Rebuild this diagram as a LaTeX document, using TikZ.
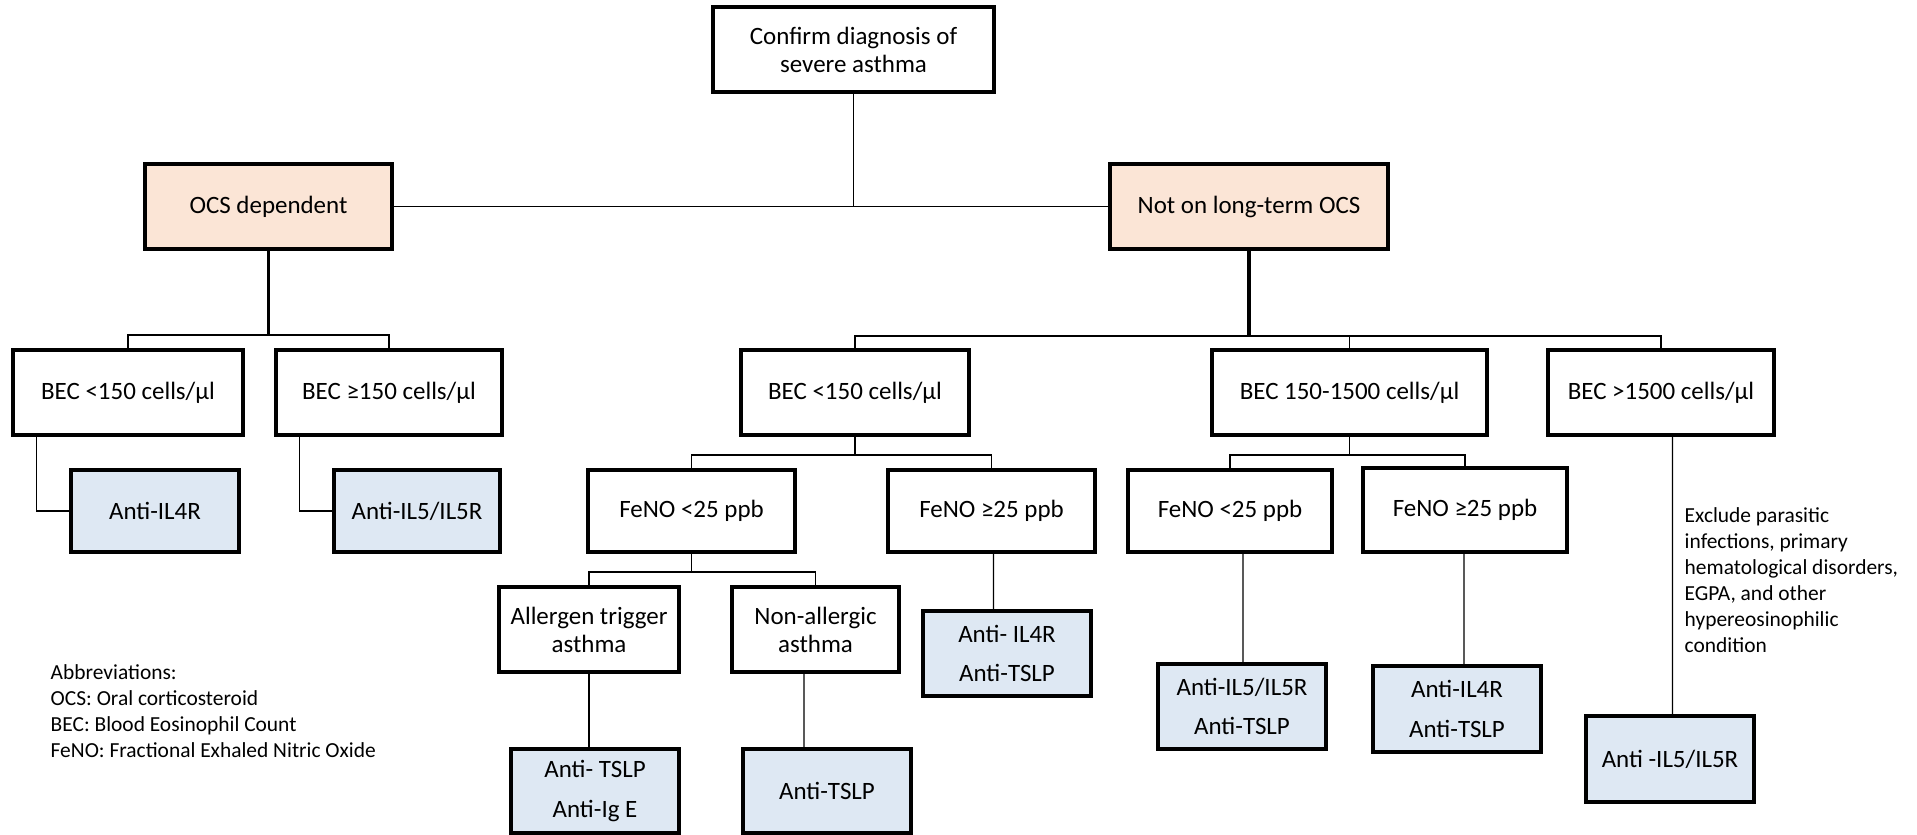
\documentclass[tikz,border=0pt]{standalone}
\usepackage{fontspec}
\setmainfont{Carlito}
\usetikzlibrary{positioning}
\definecolor{peach}{HTML}{FBE5D6}
\definecolor{paleblue}{HTML}{DEE8F3}

\begin{document}
\begin{tikzpicture}[
    block/.style={rectangle, draw, line width=1pt, fill=white, align=center, minimum height=0.85cm, inner sep=1pt, font=\fontsize{7.1}{8}\selectfont},
    grp/.style={block, fill=peach},
    drug/.style={block, fill=paleblue, font=\fontsize{7.1}{11.3}\selectfont},
    link/.style={line width=0.4pt},
    bus/.style={line width=0.55pt},
    trunk/.style={line width=0.95pt},
    note/.style={align=left, inner sep=0pt, font=\fontsize{6.1}{7.4}\selectfont}
]
\useasboundingbox (0,0) rectangle (19.17,-8.35);

% Diagnose und Gruppen
\node[block, minimum width=2.81cm] at (8.535,-0.495) (confirm) {Confirm diagnosis of\\severe asthma};
\node[grp, minimum width=2.47cm] at (2.685,-2.065) (ocsdep) {OCS dependent};
\node[grp, minimum width=2.78cm] at (12.49,-2.065) (notocs) {Not on long-term OCS};

% Eosinophile
\node[block, minimum width=2.30cm] at (1.28,-3.925) (becL1) {BEC <150 cells/µl};
\node[block, minimum width=2.26cm] at (3.89,-3.925) (becL2) {BEC ≥150 cells/µl};
\node[block, minimum width=2.28cm] at (8.55,-3.925) (becM) {BEC <150 cells/µl};
\node[block, minimum width=2.75cm] at (13.495,-3.925) (becR1) {BEC 150-1500 cells/µl};
\node[block, minimum width=2.26cm] at (16.61,-3.925) (becR2) {BEC >1500 cells/µl};

% FeNO
\node[drug, minimum width=1.68cm, minimum height=0.82cm] at (1.55,-5.11) (antiA) {Anti-IL4R};
\node[drug, minimum width=1.66cm, minimum height=0.82cm] at (4.17,-5.11) (antiB) {Anti-IL5/IL5R};
\node[block, minimum width=2.07cm, minimum height=0.82cm] at (6.915,-5.11) (fenoA) {FeNO <25 ppb};
\node[block, minimum width=2.07cm, minimum height=0.82cm] at (9.915,-5.11) (fenoB) {FeNO ≥25 ppb};
\node[block, minimum width=2.04cm, minimum height=0.82cm] at (12.30,-5.11) (fenoC) {FeNO <25 ppb};
\node[block, minimum width=2.04cm, minimum height=0.84cm] at (14.65,-5.10) (fenoD) {FeNO ≥25 ppb};

% Allergie
\node[block, minimum width=1.80cm] at (5.89,-6.295) (allerg) {Allergen trigger\\asthma};
\node[block, minimum width=1.67cm] at (8.155,-6.295) (nonall) {Non-allergic\\asthma};

% Biologika
\node[drug, minimum width=1.68cm, minimum height=0.84cm] at (5.95,-7.91) (tslpige) {Anti- TSLP\\Anti-Ig E};
\node[drug, minimum width=1.68cm, minimum height=0.84cm] at (8.27,-7.91) (tslp) {Anti-TSLP};
\node[drug, minimum width=1.68cm] at (10.07,-6.535) (il4tslp) {Anti- IL4R\\Anti-TSLP};
\node[drug, minimum width=1.68cm] at (12.42,-7.065) (il5tslp) {Anti-IL5/IL5R\\Anti-TSLP};
\node[drug, minimum width=1.68cm, minimum height=0.86cm] at (14.57,-7.09) (il4tslpB) {Anti-IL4R\\Anti-TSLP};
\node[drug, minimum width=1.68cm, minimum height=0.86cm] at (16.70,-7.59) (il5r) {Anti -IL5/IL5R};

% Hinweise
\node[note, anchor=west] at (0.50,-7.11) (abbr) {Abbreviations:\\OCS: Oral corticosteroid\\BEC: Blood Eosinophil Count\\FeNO: Fractional Exhaled Nitric Oxide};
\node[note, anchor=west] at (16.84,-5.805) (excl) {Exclude parasitic\\infections, primary\\hematological disorders,\\EGPA, and other\\hypereosinophilic\\condition};

% Verbindungen oben
\draw[bus] (confirm) -- (confirm |- ocsdep);
\draw[bus] (ocsdep) -- (notocs);

\coordinate[below=0.84cm of ocsdep] (busA);
\draw[trunk] (ocsdep) -- (busA);
\draw[bus] (becL1) |- (busA) -| (becL2);

\coordinate[below=0.85cm of notocs] (busB);
\draw[trunk] (notocs) -- (busB);
\draw[bus] (becM) |- (busB) -| (becR2);
\draw[bus] (busB -| becR1) -- (becR1);

% Verbindungen links
\draw[link] ([xshift=2.5mm]becL1.south west) |- (antiA);
\draw[link] ([xshift=2.5mm]becL2.south west) |- (antiB);

% Verbindungen Mitte
\coordinate[below=1.8mm of becM] (busC);
\draw[bus] (becM) -- (busC);
\draw[bus] (fenoA) |- (busC) -| (fenoB);

\coordinate[below=1.8mm of fenoA] (busD);
\draw[bus] (fenoA) -- (busD);
\draw[bus] (allerg) |- (busD) -| (nonall);

\draw[link] (allerg.south) -- (allerg.south |- tslpige.north);
\draw[link] ([xshift=-1.15mm]nonall.south) -- ([xshift=-2.3mm]tslp.north);
\draw[link] ([xshift=0.2mm]fenoB.south) -- ([xshift=-1.35mm]il4tslp.north);

% Verbindungen rechts
\coordinate[below=1.8mm of becR1] (busE);
\draw[bus] (becR1) -- (busE);
\draw[bus] (fenoC) |- (busE) -| (fenoD);

\draw[link] ([xshift=1.3mm]fenoC.south) -- ([xshift=0.1mm]il5tslp.north);
\draw[link] ([xshift=-0.1mm]fenoD.south) -- ([xshift=0.7mm]il4tslpB.north);
\draw[link] ([xshift=1.15mm]becR2.south) -- ([xshift=0.25mm]il5r.north);
\end{tikzpicture}
\end{document}
